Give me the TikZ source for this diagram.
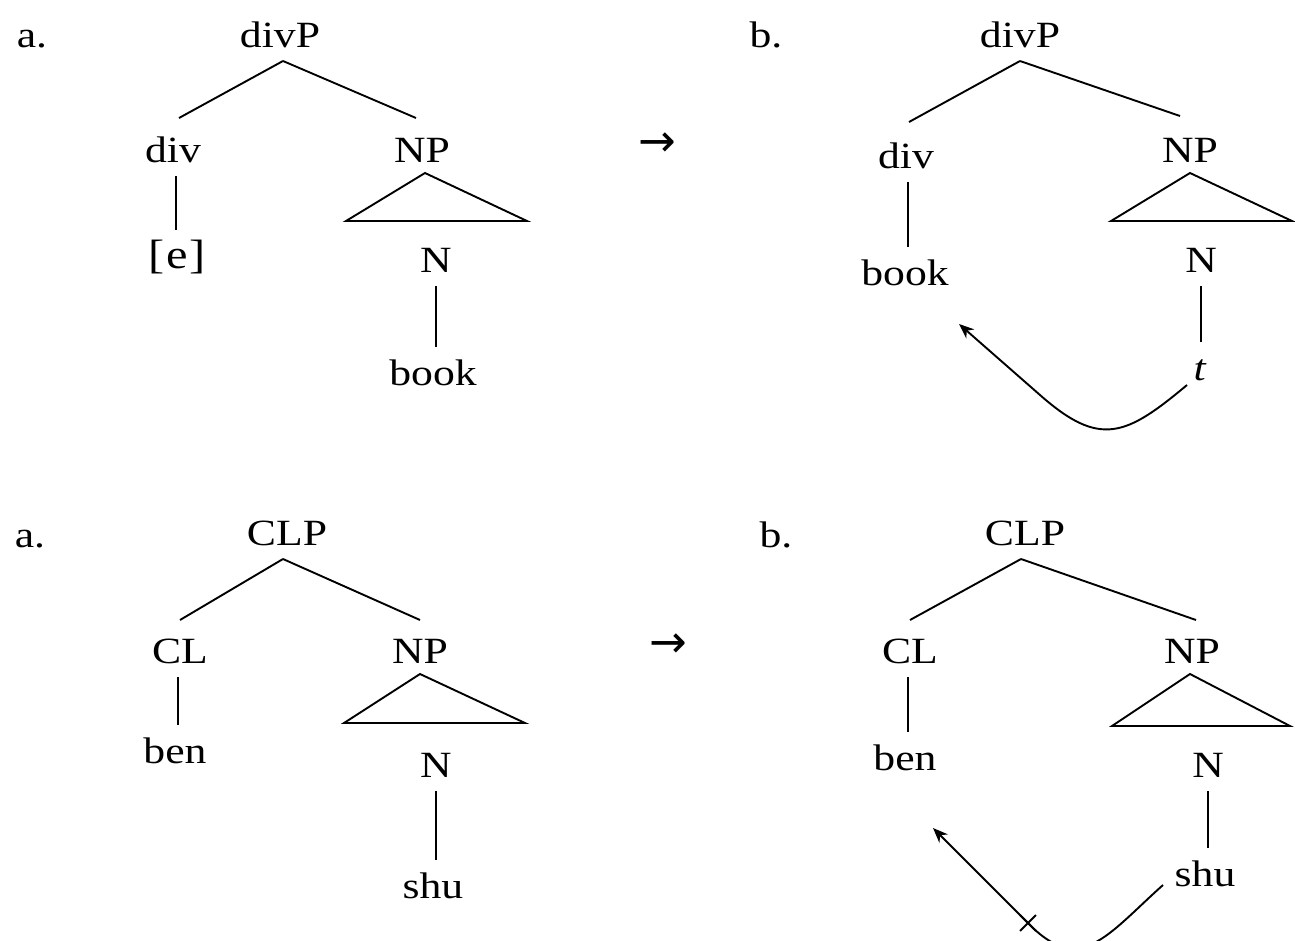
\documentclass[tikz,border=0pt]{standalone}
\usepackage{fontspec}
\setmainfont{Liberation Serif}[FakeStretch=1.18]
\newfontfamily\arrowfont{DejaVu Sans}
\usetikzlibrary{calc,arrows.meta,shapes.misc}
\tikzset{
  lbl/.style={anchor=base, inner sep=0pt, outer sep=5pt, text height=33pt, text depth=9pt,
    font=\fontsize{37}{44}\selectfont},
  tag/.style={anchor=base, inner sep=0pt, font=\fontsize{37}{44}\selectfont},
  goes/.style={inner sep=0pt, font=\arrowfont\fontsize{45}{50}\selectfont},
  br/.style={line width=1.9pt},
  mv/.style={line width=1.9pt, -{Stealth[length=15pt,width=12pt]}},
  tri/.style={line width=1.9pt, line join=miter},
}
\begin{document}
\begin{tikzpicture}[x=1pt,y=-1pt]
\useasboundingbox (0,0) rectangle (1295,940);

% ---------- divP, (a) ----------
\node[tag] (la1) at (32,47) {a.};
\node[lbl] (divPa) at (280,47) {divP};
\node[lbl] (diva)  at (173,162) {div};
\node[lbl] (ea)    at (177,268) {\fontsize{41}{44}\selectfont[\kern2pt e\kern2pt]};
\node[lbl] (NPa)   at (422,162) {NP};
\node[lbl] (Na)    at (436,272) {N};
\node[lbl] (booka) at (433,385) {book};
\draw[br] ([xshift=3pt]divPa.south) -- ([xshift=6pt,yshift=6pt]diva.north);
\draw[br] ([xshift=3pt]divPa.south) -- ([xshift=-6pt,yshift=6pt]NPa.north);
\draw[br] ([xshift=3pt]diva.south) -- ([xshift=3pt]diva.south |- ea.north);
\draw[tri] ([xshift=3pt,yshift=3pt]NPa.south) -- ++(-79,48) -- ++(181,0) -- cycle;
\draw[br] (Na.south) -- (Na.south |- booka.north);

\node[goes] (arr1) at (657,145) {→};

% ---------- divP, (b) ----------
\node[tag] (lb1) at (766,47) {b.};
\node[lbl] (divPb) at (1020,47) {divP};
\node[lbl] (divb)  at (906,168) {div};
\node[lbl] (bookb) at (905,285) {book};
\node[lbl] (NPb)   at (1190,162) {NP};
\node[lbl] (Nb)    at (1201,272) {N};
\node[lbl] (tb)    at (1200,380) {\textit{t}};
\draw[br] (divPb.south) -- ([xshift=3pt,yshift=8pt]divb.north);
\draw[br] (divPb.south) -- ([xshift=-10pt,yshift=8pt]NPb.north);
\draw[br] ([xshift=2pt]divb.south) -- ([xshift=2pt]divb.south |- bookb.north);
\draw[tri] ([yshift=3pt]NPb.south) -- ++(-79,48) -- ++(181,0) -- cycle;
\draw[br] (Nb.south) -- (Nb.south |- tb.north);
\coordinate (bendb) at (1040,395);
\draw[mv] ($(tb.base)+(-13,5)$) .. controls +(-61,51) and +(60,53) .. (bendb)
          -- ($(bookb.base)+(54,39)$);

% ---------- CLP, (a) ----------
\node[tag] (la2) at (30,547) {a.};
\node[lbl] (CLPa) at (287,545) {CLP};
\node[lbl] (CLa)  at (180,663) {CL};
\node[lbl] (bena) at (175,763) {ben};
\node[lbl] (NPc)  at (420,663) {NP};
\node[lbl] (Nc)   at (436,777) {N};
\node[lbl] (shua) at (433,898) {shu};
\draw[br] ([xshift=-4pt]CLPa.south) -- ([yshift=5pt]CLa.north);
\draw[br] ([xshift=-4pt]CLPa.south) -- ([yshift=5pt]NPc.north);
\draw[br] ([xshift=-2pt]CLa.south) -- ([xshift=-2pt]CLa.south |- bena.north);
\draw[tri] ([yshift=3pt]NPc.south) -- ++(-76,49) -- ++(181,0) -- cycle;
\draw[br] (Nc.south) -- (Nc.south |- shua.north);

\node[goes] (arr2) at (668,646) {→};

% ---------- CLP, (b) ----------
\node[tag] (lb2) at (776,547) {b.};
\node[lbl] (CLPb) at (1025,545) {CLP};
\node[lbl] (CLb)  at (910,663) {CL};
\node[lbl] (benb) at (905,770) {ben};
\node[lbl] (NPd)  at (1192,663) {NP};
\node[lbl] (Nd)   at (1208,777) {N};
\node[lbl] (shud) at (1205,886) {shu};
\draw[br] ([xshift=-4pt]CLPb.south) -- ([yshift=5pt]CLb.north);
\draw[br] ([xshift=-4pt]CLPb.south) -- ([xshift=4pt,yshift=5pt]NPd.north);
\draw[br] ([xshift=-2pt]CLb.south) -- ([xshift=-2pt]CLb.south |- benb.north);
\draw[tri] ([xshift=-2pt,yshift=3pt]NPd.south) -- ++(-78,52) -- ++(178,0) -- cycle;
\draw[br] (Nd.south) -- (Nd.south |- shud.north);
\coordinate (bendd) at (1028,923);
\draw[mv] ($(shud.base)+(-42,-1)$) .. controls +(-56,50) and +(52,54) .. (bendd)
          -- node[pos=0.0, cross out, draw, line width=1.9pt, minimum size=14pt, inner sep=0pt] (blk) {}
          ($(benb.base)+(28,58)$);
\end{tikzpicture}
\end{document}
